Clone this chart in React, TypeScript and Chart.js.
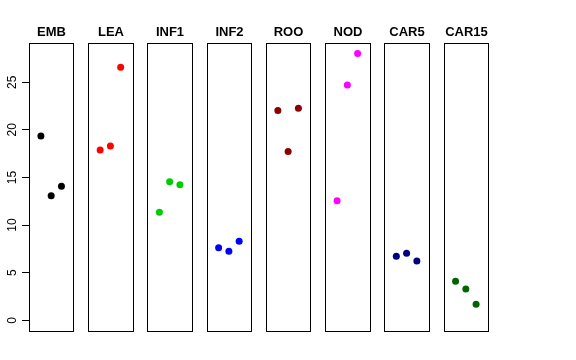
import { useEffect, useRef } from "react";
import { Chart, registerables } from "chart.js";

Chart.register(...registerables);

const panels = ["EMB", "LEA", "INF1", "INF2", "ROO", "NOD", "CAR5", "CAR15"];
const colors = ["#000000", "#FF0000", "#00CD00", "#0000FF", "#8B0000", "#FF00FF", "#000080", "#006400"];

const EMB = [19.35, 13.07, 14.09];
const LEA = [17.88, 18.3, 26.58];
const INF1 = [11.36, 14.55, 14.23];
const INF2 = [7.61, 7.26, 8.31];
const ROO = [22.02, 17.74, 22.26];
const NOD = [12.55, 24.72, 28.01];
const CAR5 = [6.73, 7.05, 6.24];
const CAR15 = [4.1, 3.3, 1.68];

const seriesValues = [EMB, LEA, INF1, INF2, ROO, NOD, CAR5, CAR15];
const yTicks = [0, 5, 10, 15, 20, 25];

// panel layout in x units: each panel spans [0,4] extended 4% -> [-0.16, 4.16]
const PANEL_STEP = 5.77;
const PANEL_MIN = -0.16;
const PANEL_MAX = 4.16;
const Y_MIN = -1.12;
const Y_MAX = 29.12;

const FONT = "'Liberation Sans', Arial, Helvetica, sans-serif";

const panelPlugin = {
  id: "panels",
  beforeDatasetsDraw(chart: any) {
    const { ctx, chartArea, scales } = chart;
    const xs = scales.x;
    ctx.save();
    ctx.strokeStyle = "#000";
    ctx.lineWidth = 1;
    ctx.fillStyle = "#000";
    ctx.font = `bold 13px ${FONT}`;
    ctx.textAlign = "center";
    ctx.textBaseline = "alphabetic";
    panels.forEach((name, i) => {
      const l = Math.round(xs.getPixelForValue(i * PANEL_STEP + PANEL_MIN)) + 0.5;
      const r = Math.round(xs.getPixelForValue(i * PANEL_STEP + PANEL_MAX)) + 0.5;
      const t = Math.round(chartArea.top) + 0.5;
      const b = Math.round(chartArea.bottom) + 0.5;
      ctx.strokeRect(l, t, r - l, b - t);
      ctx.fillText(name, (l + r) / 2, t - 8);
    });
    // y tick labels, rotated like R's default
    const ys = scales.y;
    ctx.font = `12px ${FONT}`;
    ctx.textAlign = "center";
    ctx.textBaseline = "alphabetic";
    ys.ticks.forEach((tk: any) => {
      const y = ys.getPixelForValue(tk.value);
      ctx.save();
      ctx.translate(15.5, y);
      ctx.rotate(-Math.PI / 2);
      ctx.fillText(String(tk.value), 0, 0);
      ctx.restore();
    });
    ctx.restore();
  },
};

export default function App() {
  const ref = useRef<HTMLCanvasElement | null>(null);
  useEffect(() => {
    if (!ref.current) return;
    const datasets = seriesValues.map((vals, i) => ({
      label: panels[i],
      data: vals.map((v, j) => ({ x: i * PANEL_STEP + j + 1, y: v })),
      backgroundColor: colors[i],
      borderColor: colors[i],
      pointRadius: 3.5,
      pointBorderWidth: 0,
      showLine: false,
    }));
    const chart = new Chart(ref.current, {
      type: "scatter",
      data: { datasets },
      plugins: [panelPlugin],
      options: {
        animation: false,
        responsive: false,
        events: [],
        layout: { padding: { left: 0, right: 88, top: 43, bottom: 29 } },
        plugins: { legend: { display: false }, tooltip: { enabled: false } },
        scales: {
          x: {
            type: "linear",
            display: false,
            min: PANEL_MIN,
            max: (panels.length - 1) * PANEL_STEP + PANEL_MAX,
          },
          y: {
            type: "linear",
            min: Y_MIN,
            max: Y_MAX,
            afterBuildTicks: (scale: any) => {
              scale.ticks = yTicks.map((v) => ({ value: v }));
            },
            afterFit: (scale: any) => {
              scale.width = 29;
            },
            ticks: { display: false },
            border: { display: false },
            grid: {
              drawOnChartArea: false,
              drawTicks: true,
              tickLength: 7,
              color: "#000",
              lineWidth: 1,
            },
          },
        },
      },
    });
    return () => chart.destroy();
  }, []);
  return (
    <div style={{ position: "absolute", left: 0, top: 0, width: 576, height: 360, background: "#fff" }}>
      <canvas ref={ref} width={576} height={360} />
    </div>
  );
}
